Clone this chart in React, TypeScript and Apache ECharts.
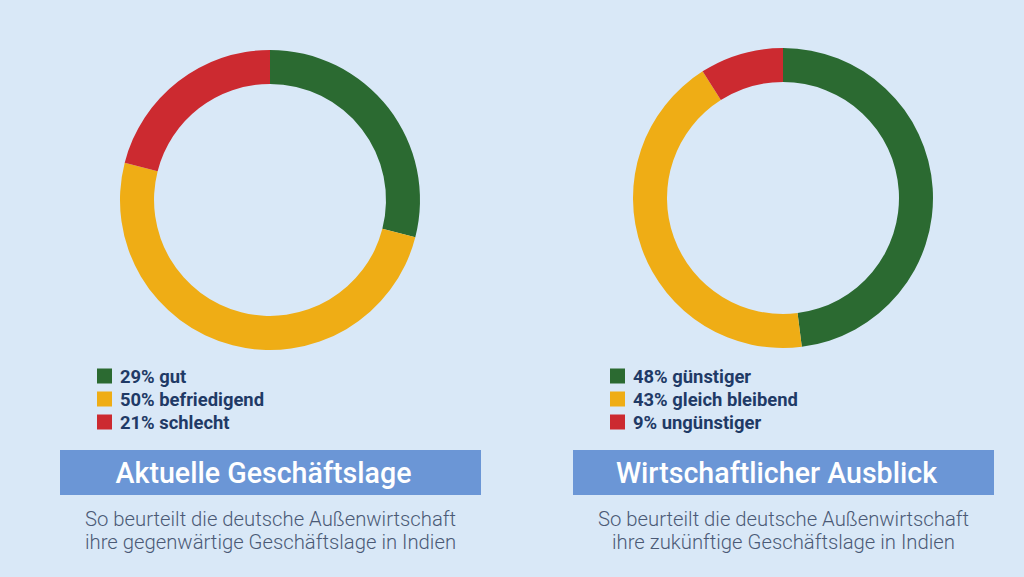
import React, { useEffect, useRef } from "react";
import * as echarts from "echarts";

const leftNames = ["gut", "befriedigend", "schlecht"];
const leftValues = [29, 50, 21];
const rightNames = ["günstiger", "gleich bleibend", "ungünstiger"];
const rightValues = [48, 43, 9];
const sliceColors = ["#2b6a31", "#efad15", "#cc2a30"];
const titles = ["Aktuelle Geschäftslage", "Wirtschaftlicher Ausblick"];
const subtitles = [
  "So beurteilt die deutsche Außenwirtschaft\nihre gegenwärtige Geschäftslage in Indien",
  "So beurteilt die deutsche Außenwirtschaft\nihre zukünftige Geschäftslage in Indien",
];

const BG = "#d9e8f7";
const BAR = "#6b96d6";
const LEGEND_TEXT = "#1f3a66";
const SUB_TEXT = "#4b5a76";

export default function App() {
  const ref = useRef<HTMLDivElement>(null);
  useEffect(() => {
    if (!ref.current) return;
    const chart = echarts.init(ref.current, null, { renderer: "svg" });
    const valueOf: Record<string, number> = {};
    leftNames.forEach((n, i) => (valueOf[n] = leftValues[i]));
    rightNames.forEach((n, i) => (valueOf[n] = rightValues[i]));
    const mkData = (names: string[], vals: number[]) =>
      names.map((n, i) => ({ name: n, value: vals[i], itemStyle: { color: sliceColors[i] } }));
    const legendCommon = {
      orient: "vertical" as const,
      itemWidth: 15,
      itemHeight: 15,
      itemGap: 5,
      padding: 0,
      icon: "rect",
      selectedMode: false,
      formatter: (n: string) => `${valueOf[n]}% ${n}`,
      textStyle: {
        fontFamily: "Roboto",
        fontWeight: "bold" as const,
        fontSize: 18.4,
        lineHeight: 15,
        color: LEGEND_TEXT,
        padding: [0, 0, 0, 3],
      },
    };
    const pieCommon = {
      type: "pie" as const,
      radius: [116, 150],
      startAngle: 90,
      clockwise: true,
      silent: true,
      label: { show: false },
      labelLine: { show: false },
      emphasis: { disabled: true },
      itemStyle: { borderWidth: 0 },
    };
    const barW = 421;
    const bars = [60, 573];
    chart.setOption({
      animation: false,
      backgroundColor: BG,
      legend: [
        { ...legendCommon, left: 97, top: 367, data: leftNames },
        { ...legendCommon, left: 610, top: 367, data: rightNames },
      ],
      series: [
        { ...pieCommon, center: [270, 200], data: mkData(leftNames, leftValues) },
        { ...pieCommon, center: [783, 198], data: mkData(rightNames, rightValues) },
      ],
      graphic: [
        ...bars.map((x) => ({
          type: "rect",
          shape: { x, y: 450, width: barW, height: 45 },
          style: { fill: BAR },
          silent: true,
        })),
        ...bars.map((x, i) => ({
          type: "text",
          x: x + barW / 2 - 7,
          y: 473,
          style: {
            text: titles[i],
            fill: "#ffffff",
            font: "500 28.6px Roboto",
            align: "center",
            verticalAlign: "middle",
          },
          silent: true,
        })),
        ...bars.map((x, i) => ({
          type: "text",
          x: x + barW / 2,
          y: 507,
          style: {
            text: subtitles[i],
            fill: SUB_TEXT,
            font: "300 20.3px Roboto",
            lineHeight: 23,
            align: "center",
            verticalAlign: "top",
          },
          silent: true,
        })),
      ],
    });
    return () => chart.dispose();
  }, []);
  return (
    <div
      ref={ref}
      style={{ position: "fixed", left: 0, top: 0, width: 1024, height: 577 }}
    />
  );
}
